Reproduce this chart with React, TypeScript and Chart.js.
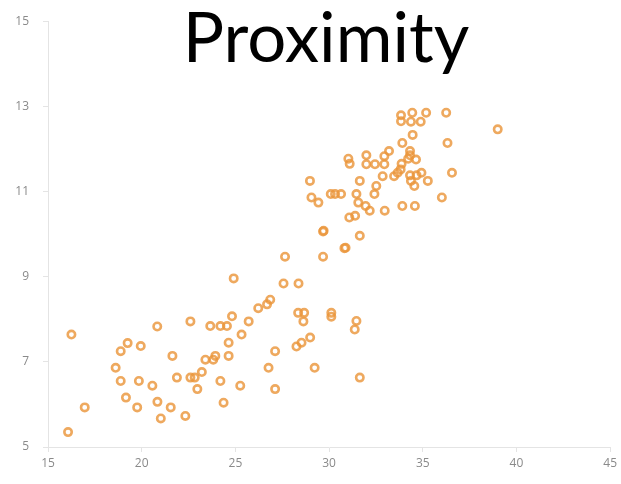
import React, { useEffect, useRef } from "react";
import { Chart, registerables } from "chart.js";

Chart.register(...registerables);

const TITLE = "Proximity";
const xValues: number[] = [
  16.25, 20.83, 22.6, 23.66, 19.25, 18.88, 19.95, 18.61, 18.88, 19.85, 20.57, 21.64, 21.88, 22.6, 22.83,
  23.21, 23.4, 23.82, 23.93, 22.97, 19.16, 19.76, 20.84, 21.55, 21.02, 22.33, 16.96, 16.07, 24.2, 24.37,
  27.65, 29.68, 30.82, 30.88, 24.91, 27.57, 28.37, 26.86, 26.69, 26.22, 25.71, 24.82, 24.2, 24.55, 25.33,
  24.64, 24.64, 25.26, 27.12, 26.77, 27.12, 28.35, 28.67, 28.63, 30.12, 30.12, 31.46, 31.37, 28.99, 28.53,
  28.26, 29.23, 31.64,
  29.68, 29.71, 31.64, 31.08, 31.39, 28.98, 29.06, 29.43, 30.09, 30.32, 30.64, 31.46, 32.52, 32.42, 31.56,
  31.95, 32.17, 32.97, 33.91, 34.58, 31.03, 31.1, 31.99, 31.99, 32.45, 32.95, 32.95, 33.2, 31.64, 32.86,
  33.47, 33.66, 33.82, 33.87, 33.91, 34.32, 34.32, 34.22, 34.64, 34.32, 34.67, 34.93, 35.27, 34.37, 34.55,
  34.46, 33.84, 33.84, 34.44, 34.37, 34.89, 35.18, 36.25, 36.32, 36.56, 36.02, 39.0,
];
const yValues: number[] = [
  7.64, 7.83, 7.95, 7.84, 7.44, 7.25, 7.37, 6.86, 6.55, 6.55, 6.44, 7.14, 6.63, 6.63, 6.63,
  6.76, 7.05, 7.05, 7.14, 6.36, 6.16, 5.93, 6.06, 5.93, 5.67, 5.73, 5.93, 5.35, 6.55, 6.04,
  9.47, 9.47, 9.67, 9.68, 8.96, 8.84, 8.84, 8.46, 8.35, 8.26, 7.95, 8.07, 7.84, 7.84, 7.64,
  7.45, 7.14, 6.44, 7.25, 6.86, 6.36, 8.15, 8.15, 7.95, 8.15, 8.06, 7.96, 7.76, 7.57, 7.45,
  7.36, 6.86, 6.63,
  10.06, 10.08, 9.96, 10.39, 10.43, 11.25, 10.86, 10.74, 10.94, 10.94, 10.94, 10.94, 11.13, 10.94, 10.74,
  10.66, 10.55, 10.55, 10.66, 10.66, 11.77, 11.65, 11.85, 11.64, 11.64, 11.64, 11.83, 11.95, 11.25, 11.36,
  11.36, 11.44, 11.52, 11.65, 12.14, 11.95, 11.85, 11.77, 11.75, 11.38, 11.38, 11.44, 11.25, 11.25, 11.13,
  12.33, 12.79, 12.65, 12.85, 12.64, 12.64, 12.85, 12.85, 12.14, 11.44, 10.86, 12.46,
];
const X_MIN = 15;
const X_MAX = 45;
const X_STEP = 5;
const Y_MIN = 5;
const Y_MAX = 15;
const Y_STEP = 2;

const titlePlugin = {
  id: "bigTitle",
  afterDraw(chart: any) {
    const ctx = chart.ctx;
    ctx.save();
    ctx.fillStyle = "#000";
    ctx.font = "69px Lato";
    ctx.textAlign = "center";
    ctx.textBaseline = "alphabetic";
    ctx.fillText(TITLE, 326, 62);
    ctx.restore();
  },
};

export default function App() {
  const ref = useRef<HTMLCanvasElement | null>(null);
  useEffect(() => {
    document.body.style.margin = "0";
    const points = xValues.map((x, i) => ({ x, y: yValues[i] }));
    const chart = new Chart(ref.current!, {
      type: "scatter",
      data: {
        datasets: [
          {
            data: points,
            backgroundColor: "rgba(0,0,0,0)",
            borderColor: "rgba(234,150,60,0.82)",
            borderWidth: 2.6,
            pointRadius: 3.7,
          },
        ],
      },
      options: {
        animation: false,
        responsive: false,
        maintainAspectRatio: false,
        layout: { padding: { top: 19, right: 9, left: 0, bottom: 0 } },
        plugins: { legend: { display: false }, tooltip: { enabled: false } },
        scales: {
          x: {
            type: "linear",
            min: X_MIN,
            max: X_MAX,
            ticks: { stepSize: X_STEP, color: "#8a8a8a", font: { family: "Open Sans", size: 12 }, padding: 4 },
            grid: { drawOnChartArea: false, color: "#e4e4e4", tickLength: 5 },
            border: { color: "#e4e4e4" },
            afterFit: (s: any) => { s.height = 37; },
          },
          y: {
            type: "linear",
            min: Y_MIN,
            max: Y_MAX,
            ticks: { stepSize: Y_STEP, color: "#8a8a8a", font: { family: "Open Sans", size: 12 }, padding: 14 },
            grid: { drawOnChartArea: false, color: "#e4e4e4", tickLength: 5 },
            border: { color: "#e4e4e4" },
            afterFit: (s: any) => { s.width = 48; },
          },
        },
      },
      plugins: [titlePlugin],
    });
    return () => chart.destroy();
  }, []);
  return (
    <div style={{ position: "absolute", left: 0, top: 0, width: 621, height: 484 }}>
      <canvas ref={ref} width={621} height={484} />
    </div>
  );
}
